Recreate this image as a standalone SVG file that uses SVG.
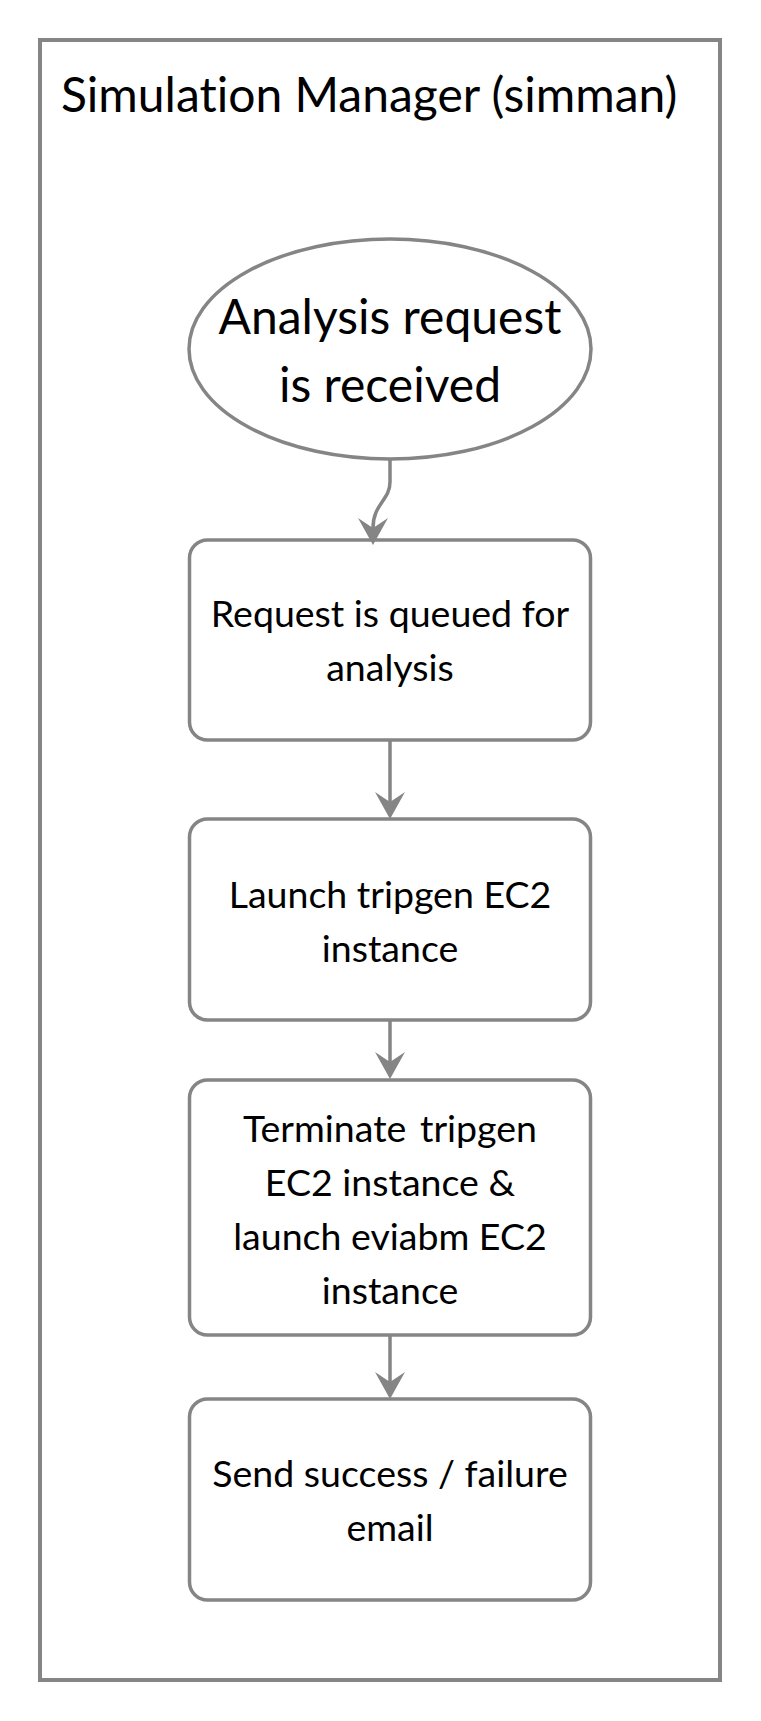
<svg xmlns="http://www.w3.org/2000/svg" width="761" height="1721" viewBox="0 0 761 1721">
<style>
.frame{fill:#ffffff;stroke:#858585;stroke-width:4}
.node{fill:#ffffff;stroke:#858585;stroke-width:3.5}
.conn{fill:none;stroke:#858585;stroke-width:3.5}
text{font-family:Lato,"Liberation Sans",sans-serif;fill:#000000;font-variant-ligatures:none}
.lbl{font-size:37.5px;text-anchor:middle}
.big{font-size:48px;text-anchor:middle}
.title{font-size:48px}
</style>
<defs>
<marker id="arr" markerUnits="userSpaceOnUse" viewBox="0 -15 27 30" markerWidth="27" markerHeight="30" refX="10" refY="0" orient="auto">
<path d="M0,-15 L27,0 L0,15 L10,0 Z" fill="#858585"/>
</marker>
</defs>
<rect width="761" height="1721" fill="#ffffff"/>
<g id="container">
<rect class="frame" x="40" y="40" width="680" height="1640"/>
<text class="title" x="61" y="112">Simulation Manager (simman)</text>
</g>
<g id="start">
<ellipse class="node" cx="390" cy="349" rx="201" ry="110"/>
<text class="big" x="390" y="334">Analysis request</text>
<text class="big" x="390" y="402">is received</text>
</g>
<g id="queue">
<rect class="node" x="189.5" y="540" width="401" height="200" rx="18"/>
<text class="lbl" x="390" y="627">Request is queued for</text>
<text class="lbl" x="390" y="681">analysis</text>
</g>
<g id="tripgen">
<rect class="node" x="189.5" y="819" width="401" height="201" rx="18"/>
<text class="lbl" x="390" y="908">Launch tripgen EC2</text>
<text class="lbl" x="390" y="962">instance</text>
</g>
<g id="eviabm">
<rect class="node" x="189.5" y="1080" width="401" height="255" rx="18"/>
<text class="lbl" x="390" y="1142">Terminate <tspan dx="4">tripgen</tspan></text>
<text class="lbl" x="390" y="1196">EC2 instance &amp;</text>
<text class="lbl" x="390" y="1250">launch eviabm EC2</text>
<text class="lbl" x="390" y="1304">instance</text>
</g>
<g id="email">
<rect class="node" x="189.5" y="1399" width="401" height="201" rx="18"/>
<text class="lbl" x="390" y="1487">Send success / failure</text>
<text class="lbl" x="390" y="1541">email</text>
</g>
<g id="connectors">
<path class="conn" d="M390,459 L390,482 C390,500 373,504 373,528" marker-end="url(#arr)"/>
<path class="conn" d="M390,740 L390,802" marker-end="url(#arr)"/>
<path class="conn" d="M390,1020 L390,1062" marker-end="url(#arr)"/>
<path class="conn" d="M390,1335 L390,1382" marker-end="url(#arr)"/>
</g>
</svg>
